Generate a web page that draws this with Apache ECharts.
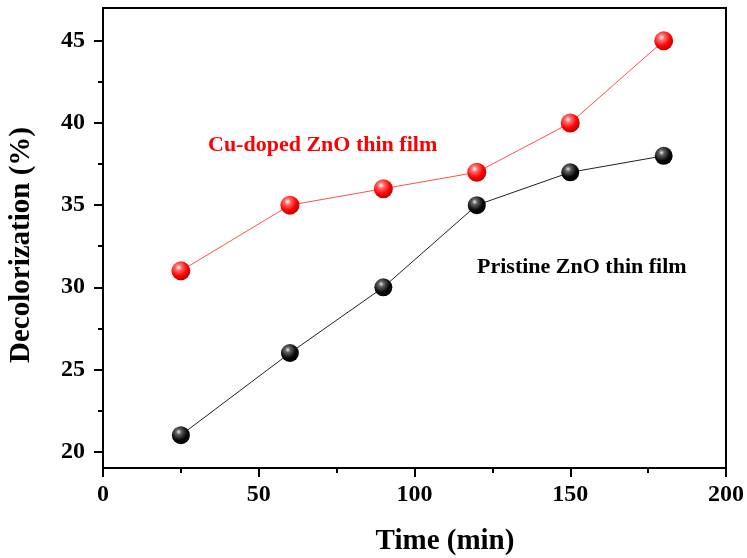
<!DOCTYPE html>
<html>
<head>
<meta charset="utf-8">
<script src="https://cdn.jsdelivr.net/npm/echarts@6/dist/echarts.min.js"></script>
<style>html,body{margin:0;padding:0;background:#fff}#c{width:747px;height:558px}</style>
</head>
<body>
<div id="c"></div>
<script>
const timeMin = [25, 60, 90, 120, 150, 180];
const cuDoped = [31, 35, 36, 37, 40, 45];
const pristine = [21, 26, 30, 35, 37, 38];
const yMajorTicks = [20, 25, 30, 35, 40, 45];
const yMinorTicks = [22.5, 27.5, 32.5, 37.5, 42.5];
const seriesNames = ['Cu-doped ZnO thin film', 'Pristine ZnO thin film'];
const xTitle = 'Time (min)';
const yTitle = 'Decolorization (%)';

const FONT = '"Liberation Serif", "Times New Roman", serif';
const chart = echarts.init(document.getElementById('c'));

function sphere(c0, c1, c2, c3) {
  return new echarts.graphic.RadialGradient(0.38, 0.32, 0.7, [
    {offset: 0, color: c0},
    {offset: 0.22, color: c1},
    {offset: 0.65, color: c2},
    {offset: 1, color: c3}
  ]);
}

chart.setOption({
  animation: false,
  backgroundColor: '#fff',
  grid: {left: 103, right: 21, top: 8, bottom: 90, show: true, borderColor: '#000', borderWidth: 2},
  xAxis: {
    type: 'value', min: 0, max: 200, interval: 50,
    axisLine: {lineStyle: {color: '#000', width: 2}},
    axisTick: {show: true, inside: false, length: 9, lineStyle: {color: '#000', width: 2}},
    minorTick: {show: true, splitNumber: 2, length: 5, lineStyle: {color: '#000', width: 2}},
    axisLabel: {margin: 15, fontFamily: FONT, fontWeight: 'bold', fontSize: 24, color: '#000'},
    splitLine: {show: false}
  },
  yAxis: [{
    type: 'value', min: 19, max: 47,
    axisLine: {show: true, lineStyle: {color: '#000', width: 2}},
    axisTick: {show: true, inside: false, length: 9, customValues: yMajorTicks, lineStyle: {color: '#000', width: 2}},
    axisLabel: {margin: 18, customValues: yMajorTicks, fontFamily: FONT, fontWeight: 'bold', fontSize: 24, color: '#000'},
    splitLine: {show: false}
  }, {
    type: 'value', min: 19, max: 47, position: 'left',
    axisLine: {show: false},
    axisTick: {show: true, inside: false, length: 5, customValues: yMinorTicks, lineStyle: {color: '#000', width: 2}},
    axisLabel: {show: false, customValues: yMinorTicks},
    splitLine: {show: false}
  }],
  series: [{
    name: seriesNames[0], type: 'line',
    data: timeMin.map((t, i) => [t, cuDoped[i]]),
    symbol: 'circle', symbolSize: 19,
    lineStyle: {color: '#ff5050', width: 1},
    itemStyle: {color: sphere('#ffffff', '#ff7070', '#ff0000', '#c00000'), borderWidth: 0},
    z: 3
  }, {
    name: seriesNames[1], type: 'line',
    data: timeMin.map((t, i) => [t, pristine[i]]),
    symbol: 'circle', symbolSize: 18,
    lineStyle: {color: '#222', width: 1},
    itemStyle: {color: sphere('#e8e8e8', '#606060', '#080808', '#000000'), borderWidth: 0},
    z: 3
  }],
  graphic: [{
    type: 'text', left: 208, top: 134,
    style: {text: seriesNames[0], fill: '#ff0000', font: 'bold 22px ' + FONT}
  }, {
    type: 'text', left: 477, top: 256,
    style: {text: seriesNames[1], fill: '#000', font: 'bold 22px ' + FONT}
  }, {
    type: 'text', x: 445, y: 527,
    style: {text: xTitle, fill: '#000', font: 'bold 29px ' + FONT, align: 'center', verticalAlign: 'top'}
  }, {
    type: 'text', x: 22, y: 245, rotation: Math.PI / 2,
    style: {text: yTitle, fill: '#000', font: 'bold 29px ' + FONT, align: 'center', verticalAlign: 'middle'}
  }]
});
</script>
</body>
</html>
